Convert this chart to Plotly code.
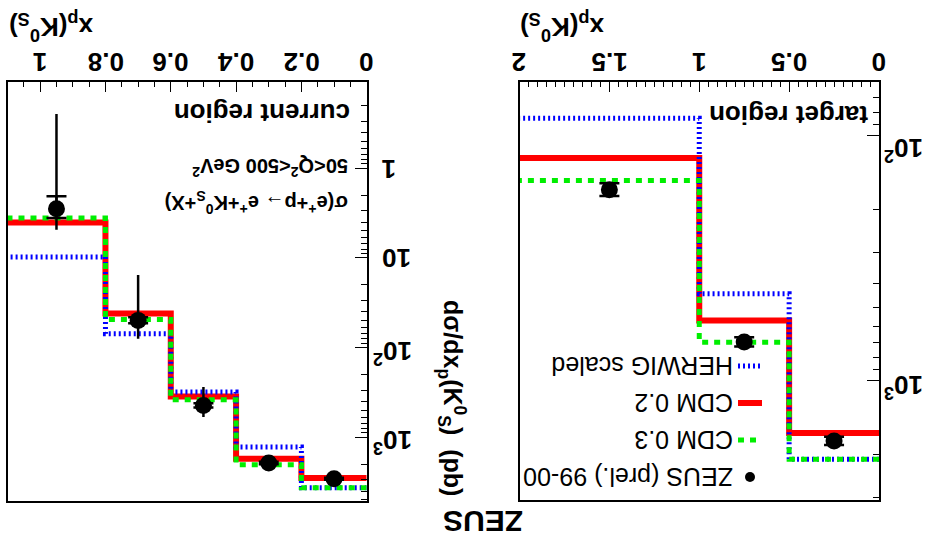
import math
import plotly.graph_objects as go

W, H = 930, 548

# ---------------- data: current region ----------------
cur_edges = [0.0, 0.2, 0.4, 0.6, 0.8, 1.1]
cur_x = [0.1, 0.3, 0.5, 0.7, 0.95]
cur_data = [2920, 1950, 444, 50, 2.84]
cur_stat = [80, 60, 25, 4, 0.77]
cur_tot_up = [120, 90, 154, 30, 2.04]
cur_tot_dn = [120, 90, 167, 34.4, 2.59]
cur_cdm02 = [2865, 1745, 352, 42, 4.04]
cur_cdm03 = [3680, 2035, 384, 49, 3.61]
cur_herwig = [3680, 1290, 315, 70.5, 9.8]

# ---------------- data: target region ----------------
tgt_edges = [0.0, 0.5, 1.0, 2.0]
tgt_x = [0.25, 0.75, 1.5]
tgt_data = [1758, 693, 166]
tgt_stat = [70, 30, 10]
tgt_cdm02 = [1633, 567, 123]
tgt_cdm03 = [2090, 695, 152]
tgt_herwig = [2090, 441, 84.7]

cur_ytickvals = [1, 10, 100, 1000]
cur_yticktext = ["1", "10", "10<sup>2</sup>", "10<sup>3</sup>"]
tgt_ytickvals = [100, 1000]
tgt_yticktext = ["10<sup>2</sup>", "10<sup>3</sup>"]
cur_xtickvals = [0, 0.2, 0.4, 0.6, 0.8, 1.0]
cur_xticktext = ["0", "0.2", "0.4", "0.6", "0.8", "1"]
tgt_xtickvals = [0, 0.5, 1.0, 1.5, 2.0]
tgt_xticktext = ["0", "0.5", "1", "1.5", "2"]

legend_labels = ["ZEUS (prel.) 99-00", "CDM 0.3", "CDM 0.2", "HERWIG scaled"]

FONT = "Liberation Sans, Arial, sans-serif"
RED = "#ff0000"
GREEN = "#00ee00"
BLUE = "#0000ff"

fig = go.Figure()


def steps(edges, vals):
    return list(edges), list(vals) + [vals[-1]]


def add_panel(edges, xs, data, stat, up, dn, cdm02, cdm03, herwig, xa, ya):
    ex, ey = steps(edges, cdm02)
    fig.add_trace(go.Scatter(x=ex, y=ey, mode="lines", line_shape="hv",
                             line=dict(color=RED, width=6), xaxis=xa, yaxis=ya, showlegend=False))
    ex, ey = steps(edges, herwig)
    fig.add_trace(go.Scatter(x=ex, y=ey, mode="lines", line_shape="hv",
                             line=dict(color=BLUE, width=5, dash="2px,3px"), xaxis=xa, yaxis=ya, showlegend=False))
    ex, ey = steps(edges, cdm03)
    fig.add_trace(go.Scatter(x=ex, y=ey, mode="lines", line_shape="hv",
                             line=dict(color=GREEN, width=5, dash="6px,6px"), xaxis=xa, yaxis=ya, showlegend=False))
    if up is not None:
        fig.add_trace(go.Scatter(x=xs, y=data, mode="markers", marker=dict(size=1, color="rgba(0,0,0,0)"),
                                 error_y=dict(type="data", symmetric=False, array=up, arrayminus=dn,
                                              color="black", thickness=2.5, width=0),
                                 xaxis=xa, yaxis=ya, showlegend=False))
    fig.add_trace(go.Scatter(x=xs, y=data, mode="markers", marker=dict(size=17, color="black"),
                             error_y=dict(type="data", array=stat, color="black", thickness=2.5, width=10),
                             xaxis=xa, yaxis=ya, showlegend=False))


add_panel(cur_edges, cur_x, cur_data, cur_stat, cur_tot_up, cur_tot_dn,
          cur_cdm02, cur_cdm03, cur_herwig, "x", "y")
add_panel(tgt_edges, tgt_x, tgt_data, tgt_stat, None, None,
          tgt_cdm02, tgt_cdm03, tgt_herwig, "x2", "y2")


def minor_log(lo, hi):
    vals = []
    for e in range(lo, hi + 1):
        for m in range(2, 10):
            vals.append(m * 10 ** e)
    return vals


common_x = dict(side="top", ticks="inside", ticklen=10, tickwidth=1.2, tickcolor="black",
                showline=True, linecolor="black", linewidth=1.5, mirror=True,
                showgrid=False, zeroline=False, showticklabels=False,
                tickmode="array", automargin=False,
                minor=dict(ticks="inside", ticklen=5, tickwidth=1.2, tickcolor="black", dtick=0.05, showgrid=False))
common_y = dict(side="right", type="log", ticks="inside", ticklen=12, tickwidth=1.2, tickcolor="black",
                showline=True, linecolor="black", linewidth=1.5, mirror=True,
                showgrid=False, zeroline=False, showticklabels=False,
                tickmode="array", automargin=False,
                minor=dict(ticks="inside", ticklen=6, tickwidth=1.2, tickcolor="black",
                           tickvals=minor_log(-2, 3), showgrid=False))

fig.update_layout(
    width=W, height=H, margin=dict(l=0, r=0, t=0, b=0),
    paper_bgcolor="white", plot_bgcolor="white", showlegend=False,
    xaxis=dict(domain=[7.5 / W, 366.7 / W], range=[1.1, 0], anchor="y",
               tickvals=cur_xtickvals, **common_x),
    yaxis=dict(domain=[1 - 501 / H, 1 - 82 / H], range=[3.713, -0.959], anchor="x",
               tickvals=cur_ytickvals, **common_y),
    xaxis2=dict(domain=[519.5 / W, 879 / W], range=[2, 0], anchor="y2",
                tickvals=tgt_xtickvals, **common_x),
    yaxis2=dict(domain=[1 - 500 / H, 1 - 82 / H], range=[3.486, 1.780], anchor="x2",
                tickvals=tgt_ytickvals, **common_y),
)


def px(x):
    return x / W


def py(y):
    return 1 - y / H


def ann(text, x, y, size, bold=True, xanchor="center", yanchor="middle", angle=180,
        xref="paper", yref="paper", yshift=0):
    fig.add_annotation(text=text, x=x, y=y, xref=xref, yref=yref,
                       xanchor=xanchor, yanchor=yanchor, showarrow=False, textangle=angle,
                       yshift=yshift,
                       font=dict(family=FONT, size=size, color="black",
                                 weight="bold" if bold else "normal"))


# tick labels (upside down)
TS = 26
for v, t in zip(cur_xtickvals, cur_xticktext):
    ann(t, v, py(62), TS, xref="x")
for v, t in zip(tgt_xtickvals, tgt_xticktext):
    ann(t, v, py(62), TS, xref="x2")
for v, t in zip(cur_ytickvals, cur_yticktext):
    has_sup = "sup" in t
    ann(t, px(371 if has_sup else 380), math.log10(v), TS, xanchor="left", yref="y",
        yshift=-5 if has_sup else -1)
for v, t in zip(tgt_ytickvals, tgt_yticktext):
    ann(t, px(882), math.log10(v), TS, xanchor="left", yref="y2",
        yshift=-13 if v == 100 else -5)

# panel texts
ann("current region", px(352), py(113), 26, xanchor="right")
ann("σ(e<sup>+</sup>+p→ e<sup>+</sup>+K<sup>0</sup><sub>S</sub>+X)", px(350), py(203), 20, xanchor="right")
ann("50<Q<sup>2</sup><500 GeV<sup>2</sup>", px(350), py(168), 20, xanchor="right")
ann("target region", px(870), py(115), 26, xanchor="right")
# axis titles
ann("x<sub>p</sub>(K<sup>0</sup><sub>S</sub>)", px(7), py(27), 26, xanchor="left")
ann("x<sub>p</sub>(K<sup>0</sup><sub>S</sub>)", px(518), py(27), 26, xanchor="left")
ann("dσ/dx<sub>p</sub>(K<sup>0</sup><sub>S</sub>)  (pb)", px(452), py(398), 25, angle=90)
ann("ZEUS", px(483), py(522), 30)

# manual legend (upside down)
leg_y = [477, 440, 403, 366]
for lab, yy in zip(legend_labels, leg_y):
    ann(lab, px(735), py(yy), 25, bold=False, xanchor="right")
fig.add_shape(type="circle", xref="paper", yref="paper",
              x0=px(745), x1=px(755), y0=py(482), y1=py(472), fillcolor="black", line=dict(width=0))
fig.add_shape(type="line", xref="paper", yref="paper", x0=px(738), x1=px(762), y0=py(440), y1=py(440),
              line=dict(color=GREEN, width=5, dash="6px,6px"))
fig.add_shape(type="line", xref="paper", yref="paper", x0=px(738), x1=px(762), y0=py(403), y1=py(403),
              line=dict(color=RED, width=6))
fig.add_shape(type="line", xref="paper", yref="paper", x0=px(738), x1=px(762), y0=py(366), y1=py(366),
              line=dict(color=BLUE, width=5, dash="2px,3px"))

fig.write_html("out.html")
